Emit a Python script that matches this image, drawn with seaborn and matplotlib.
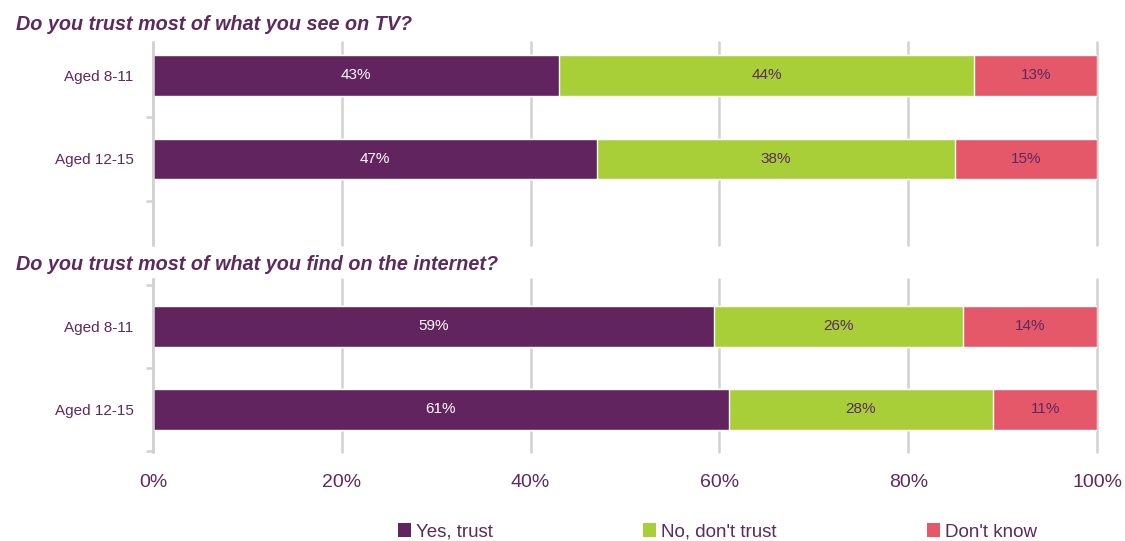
import matplotlib
matplotlib.use("Agg")
import matplotlib.pyplot as plt
from matplotlib.patches import Patch
import numpy as np
import pandas as pd
import seaborn as sns

# Survey results (percent of respondents); labels show whole percentages
groups = ["Aged 8-11", "Aged 12-15"]
tv_yes = [43, 47]
tv_no = [44, 38]
tv_dk = [13, 15]
web_yes = [59.4, 61]
web_no = [26.4, 28]
web_dk = [14.2, 11]

series_names = ["Yes, trust", "No, don't trust", "Don't know"]
titles = ["Do you trust most of what you see on TV?",
          "Do you trust most of what you find on the internet?"]
xticks = [0, 20, 40, 60, 80, 100]
xtick_labels = ["0%", "20%", "40%", "60%", "80%", "100%"]

PURPLE = "#62245f"
GREEN = "#a9cf38"
RED = "#e55869"
TEXT = "#5c2a5e"
GRID = "#d1d1d1"
colors = [PURPLE, GREEN, RED]
label_colors = ["white", TEXT, TEXT]

sns.set_theme(style="white")
plt.rcParams["font.family"] = ["Liberation Sans", "DejaVu Sans"]

fig = plt.figure(figsize=(11.25, 5.41), dpi=100)
left, width = 153 / 1125, 944 / 1125
ax_top = fig.add_axes([left, 1 - 245 / 541, width, 203 / 541])
ax_bot = fig.add_axes([left, 1 - 452 / 541, width, 173 / 541])


def draw_panel(ax, yes, no, dk, ylim, minor):
    parts = [np.asarray(yes, float), np.asarray(no, float), np.asarray(dk, float)]
    cums = np.cumsum(np.vstack(parts), axis=0)
    # stack by drawing the cumulative totals from longest to shortest
    for i in reversed(range(3)):
        d = pd.DataFrame({"group": groups, "value": cums[i]})
        sns.barplot(data=d, x="value", y="group", orient="h", color=colors[i],
                    width=0.49, saturation=1, ax=ax, zorder=2)
    for i in range(3):
        for j in range(len(groups)):
            v = parts[i][j]
            ax.text(cums[i][j] - v / 2, j, f"{v:.0f}%", ha="center", va="center",
                    color=label_colors[i], fontsize=11, zorder=3)
    ax.set_xlim(0, 100)
    ax.set_ylim(*ylim)
    ax.set_xticks(xticks)
    ax.set_xlabel("")
    ax.set_ylabel("")
    ax.xaxis.grid(True, color=GRID, linewidth=1.8)
    for line in ax.get_xgridlines():
        line.set_clip_on(False)
    ax.yaxis.grid(False)
    ax.set_axisbelow(True)
    for s in ["top", "right", "bottom"]:
        ax.spines[s].set_visible(False)
    ax.spines["left"].set_color(GRID)
    ax.spines["left"].set_linewidth(1.8)
    ax.set_yticks(range(len(groups)))
    ax.set_yticklabels(groups, fontsize=11, color=TEXT)
    ax.tick_params(axis="y", which="major", length=0, pad=14)
    ax.set_yticks(minor, minor=True)
    ax.tick_params(axis="y", which="minor", length=5, width=1.8, color=GRID,
                   direction="out", left=True)


draw_panel(ax_top, tv_yes, tv_no, tv_dk, (2.03, -0.401), [0.5, 1.5])
draw_panel(ax_bot, web_yes, web_no, web_dk, (1.512, -0.572), [-0.5, 0.5, 1.5])

ax_top.tick_params(axis="x", length=0, labelbottom=False)
ax_bot.set_xticklabels(xtick_labels)
ax_bot.tick_params(axis="x", length=0, pad=16, labelsize=14, labelcolor=TEXT)

fig.text(16 / 1125, 1 - 24 / 541, titles[0], fontsize=14.2, fontweight="bold",
         fontstyle="italic", color=TEXT, va="center", ha="left")
fig.text(16 / 1125, 1 - 264 / 541, titles[1], fontsize=14.2, fontweight="bold",
         fontstyle="italic", color=TEXT, va="center", ha="left")

handles = [Patch(facecolor=c, edgecolor="none") for c in colors]
fig.legend(handles, series_names, loc="center", bbox_to_anchor=(717.5 / 1125, 1 - 532 / 541),
           ncol=3, frameon=False, fontsize=13.5, labelcolor=TEXT,
           handlelength=0.7, handleheight=0.7, handletextpad=0.27,
           columnspacing=8.0, borderpad=0, borderaxespad=0)

fig.savefig("out.png", dpi=100)
